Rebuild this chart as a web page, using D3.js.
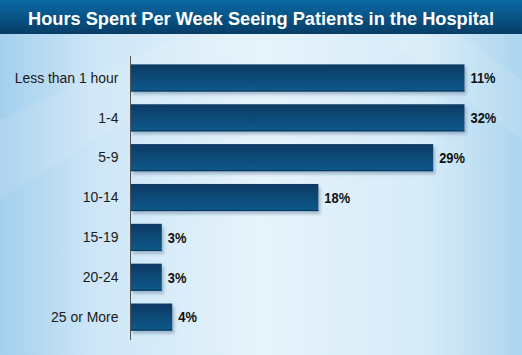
<!DOCTYPE html>
<html><head><meta charset="utf-8">
<script src="https://cdn.jsdelivr.net/npm/d3@7"></script>
<style>html,body{margin:0;padding:0;overflow:hidden;}svg{display:block;}</style>
</head><body>
<script>
const title = "Hours Spent Per Week Seeing Patients in the Hospital";
const categories = ["Less than 1 hour", "1-4", "5-9", "10-14", "15-19", "20-24", "25 or More"];
const barValues = [32, 32, 29, 18, 3, 3, 4];
const valueLabels = ["11%", "32%", "29%", "18%", "3%", "3%", "4%"];

const W = 522, H = 355;
const svg = d3.select("body").append("svg").attr("width", W).attr("height", H);
const defs = svg.append("defs");

const bg = defs.append("linearGradient").attr("id", "bg").attr("x1", 0).attr("x2", 1).attr("y1", 0).attr("y2", 0);
bg.append("stop").attr("offset", 0).attr("stop-color", "#a4cfed");
bg.append("stop").attr("offset", 0.18).attr("stop-color", "#cde6f7");
bg.append("stop").attr("offset", 0.5).attr("stop-color", "#e6f3fb");
bg.append("stop").attr("offset", 0.82).attr("stop-color", "#d6ebf8");
bg.append("stop").attr("offset", 1).attr("stop-color", "#acd5ef");

const tb = defs.append("linearGradient").attr("id", "tb").attr("x1", 0).attr("x2", 0).attr("y1", 0).attr("y2", 1);
tb.append("stop").attr("offset", 0).attr("stop-color", "#0a6aa6");
tb.append("stop").attr("offset", 1).attr("stop-color", "#073d66");

const bar = defs.append("linearGradient").attr("id", "bar").attr("x1", 0).attr("x2", 0).attr("y1", 0).attr("y2", 1);
bar.append("stop").attr("offset", 0).attr("stop-color", "#093a63");
bar.append("stop").attr("offset", 1).attr("stop-color", "#0e5a8c");

const sh = defs.append("filter").attr("id", "sh").attr("x", "-10%").attr("y", "-10%").attr("width", "130%").attr("height", "150%");
sh.append("feDropShadow").attr("dx", 2).attr("dy", 3).attr("stdDeviation", 1.5).attr("flood-color", "#5a7d99").attr("flood-opacity", 0.45);

svg.append("rect").attr("width", W).attr("height", H).attr("fill", "url(#bg)");
svg.append("path").attr("d", "M0,120 L180,35 L260,35 L0,200 Z").attr("fill", "#ffffff").attr("opacity", 0.10);
svg.append("path").attr("d", "M522,140 L380,35 L460,35 L522,80 Z").attr("fill", "#ffffff").attr("opacity", 0.10);

svg.append("rect").attr("width", W).attr("height", 34).attr("fill", "url(#tb)");
svg.append("text").attr("x", 261).attr("y", 25).attr("text-anchor", "middle")
  .attr("font-family", "Liberation Sans, Arial, sans-serif").attr("font-weight", "bold")
  .attr("font-size", 19).attr("fill", "#ffffff")
  .attr("textLength", 466).attr("lengthAdjust", "spacingAndGlyphs").text(title);

const x = d3.scaleLinear().domain([0, 32]).range([130.5, 464.5]);
const y = d3.scaleBand().domain(categories).range([58, 337]).paddingInner(0.32).paddingOuter(0.16);

const g = svg.append("g");
g.selectAll("rect.bar").data(categories).join("rect").attr("class", "bar")
  .attr("x", x(0)).attr("y", d => y(d))
  .attr("width", (d, i) => x(barValues[i]) - x(0)).attr("height", y.bandwidth())
  .attr("fill", "url(#bar)").attr("filter", "url(#sh)");
g.selectAll("line.edge").data(categories).join("line").attr("class", "edge")
  .attr("x1", x(0)).attr("x2", (d, i) => x(barValues[i]))
  .attr("y1", d => y(d) + y.bandwidth() - 0.5).attr("y2", d => y(d) + y.bandwidth() - 0.5)
  .attr("stroke", "#083352").attr("stroke-width", 1);

const sx = 0.93, vx = 0.86;
const yAxis = d3.axisLeft(y).tickSize(0).tickPadding(12);
const ay = svg.append("g").attr("transform", `translate(${x(0)},0)`).call(yAxis);
ay.select(".domain").remove();
ay.selectAll("text").attr("font-family", "Liberation Sans, Arial, sans-serif")
  .attr("font-size", 15).attr("fill", "#1a1a1a")
  .attr("x", -12 / sx).attr("transform", `scale(${sx},1)`);
svg.append("line").attr("x1", x(0)).attr("x2", x(0)).attr("y1", 56).attr("y2", 340)
  .attr("stroke", "#555").attr("stroke-width", 1);

g.selectAll("text.val").data(categories).join("text").attr("class", "val")
  .attr("x", (d, i) => (x(barValues[i]) + 6) / vx).attr("y", d => y(d) + y.bandwidth() / 2)
  .attr("dy", "0.36em").attr("transform", `scale(${vx},1)`)
  .attr("font-family", "Liberation Sans, Arial, sans-serif")
  .attr("font-weight", "bold").attr("font-size", 15).attr("fill", "#111")
  .text((d, i) => valueLabels[i]);
</script>
</body></html>
